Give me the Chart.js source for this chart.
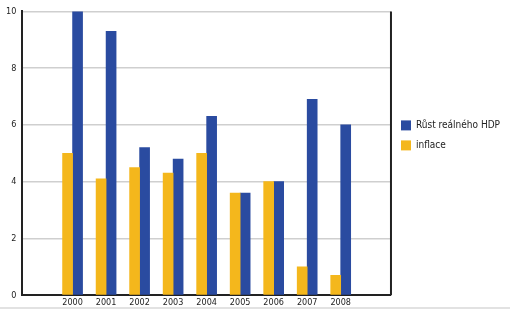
<!DOCTYPE html>
<html>
<head>
<meta charset="utf-8">
<script src="https://cdn.jsdelivr.net/npm/chart.js@4"></script>
<style>
  html, body { margin: 0; padding: 0; background: #fff; }
  #wrap { position: relative; width: 510px; height: 310px; }
  #bottomLine { position: absolute; left: 0; top: 307px; width: 510px; height: 2px; background: #e2e2e2; }
</style>
</head>
<body>
<div id="wrap">
  <canvas id="growthChart" width="510" height="310"></canvas>
  <div id="bottomLine"></div>
</div>
<script>
// categories (empty slot on each side, as in the original)
const years = ['', '2000', '2001', '2002', '2003', '2004', '2005', '2006', '2007', '2008', ''];
const inflace = [null, 5.0, 4.1, 4.5, 4.3, 5.0, 3.6, 4.0, 1.0, 0.7, null];
const rustHdp = [null, 10.0, 9.3, 5.2, 4.8, 6.3, 3.6, 4.0, 6.9, 6.0, null];
const yTicks = [0, 2, 4, 6, 8, 10];

const fontName = "'DejaVu Sans Condensed', 'DejaVu Sans', sans-serif";

// dark frame line on the right side of the plot
const rightBorder = {
    id: 'rightBorder',
    afterDatasetsDraw(chart) {
        const a = chart.chartArea;
        const c = chart.ctx;
        c.save();
        c.strokeStyle = '#222';
        c.lineWidth = 2;
        c.beginPath();
        c.moveTo(a.right, a.top);
        c.lineTo(a.right, a.bottom);
        c.stroke();
        c.restore();
    }
};

const ctx = document.getElementById('growthChart').getContext('2d');
let growthChart = new Chart(ctx, {
    type: 'bar',
    data: {
        labels: years,
        datasets: [
            {
                label: 'inflace',
                data: inflace,
                backgroundColor: '#f4b71c',
                barThickness: 10
            },
            {
                label: 'Růst reálného HDP',
                data: rustHdp,
                backgroundColor: '#2a4ba0',
                barThickness: 10
            }
        ]
    },
    options: {
        responsive: false,
        animation: false,
        layout: { padding: { left: 0, top: 5, right: 0, bottom: 0 } },
        plugins: {
            tooltip: { enabled: false },
            legend: {
                position: 'right',
                align: 'start',
                reverse: true,
                title: {
                    display: true,
                    text: ' ',
                    padding: { top: 0, bottom: 91 }
                },
                labels: {
                    boxWidth: 10,
                    boxHeight: 10,
                    padding: 10,
                    color: '#222',
                    font: { family: fontName, size: 10 }
                }
            }
        },
        scales: {
            x: {
                grid: { display: false, drawTicks: false },
                border: { color: '#222', width: 2 },
                ticks: {
                    color: '#222',
                    padding: 2,
                    autoSkip: false,
                    maxRotation: 0,
                    font: { family: fontName, size: 9 }
                }
            },
            y: {
                min: 0,
                max: 10,
                afterBuildTicks: axis => { axis.ticks = yTicks.map(v => ({ value: v })); },
                grid: { color: '#cfcfcf', lineWidth: 1.5, drawTicks: false },
                border: { color: '#222', width: 2 },
                ticks: {
                    color: '#222',
                    padding: 6,
                    font: { family: fontName, size: 9 }
                }
            }
        }
    },
    plugins: [rightBorder]
});
</script>
</body>
</html>
